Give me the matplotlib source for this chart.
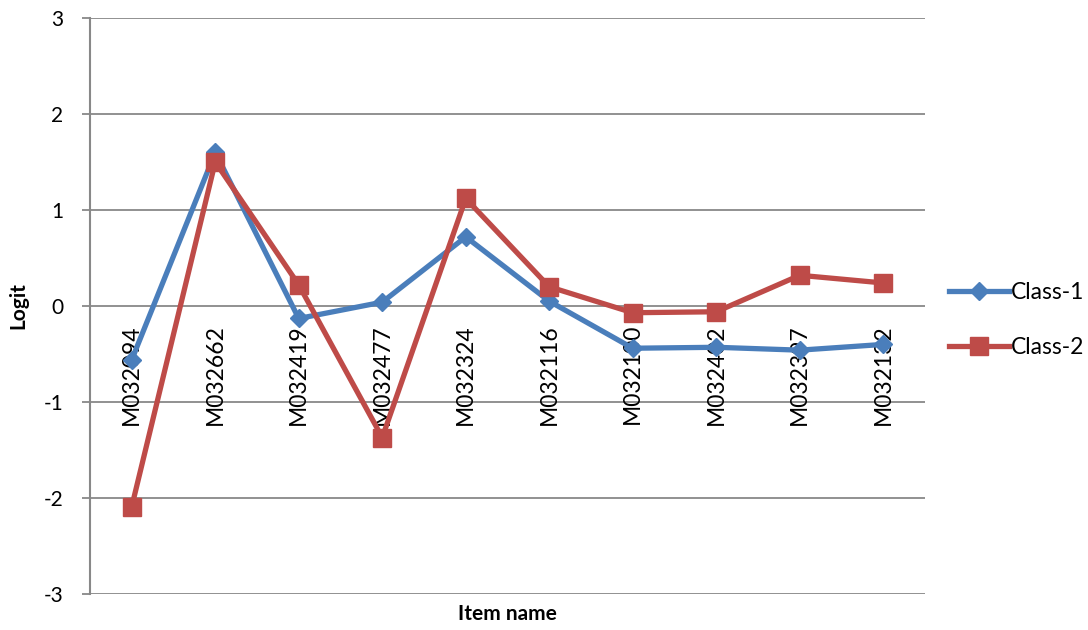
import matplotlib
matplotlib.use("Agg")
import matplotlib.pyplot as plt
from matplotlib.lines import Line2D

plt.rcParams['font.family'] = ['Lato', 'DejaVu Sans']

items = ["M032094", "M032662", "M032419", "M032477", "M032324",
         "M032116", "M032100", "M032402", "M032397", "M032132"]
class1 = [-0.56, 1.60, -0.13, 0.04, 0.72, 0.05, -0.44, -0.43, -0.46, -0.40]
class2 = [-2.09, 1.50, 0.22, -1.37, 1.12, 0.20, -0.07, -0.06, 0.32, 0.24]
yticks = [-3, -2, -1, 0, 1, 2, 3]

blue = "#4A7EBB"
red = "#BE4B48"
grid = "#888888"

fig = plt.figure(figsize=(10.88, 6.3), dpi=100)
ax = fig.add_axes([90/1088, 1-594/630, (925-90)/1088, (594-18)/630])

ax.spines['bottom'].set_position(('data', 0))
ax.spines['bottom'].set_visible(False)
ax.spines['top'].set_visible(False)
ax.spines['right'].set_visible(False)
ax.spines['left'].set_color(grid)
ax.spines['left'].set_linewidth(1.5)

x = list(range(len(items)))
ax.plot(x, class1, color=blue, lw=3.8, marker="D", ms=9, mec=blue, mfc=blue,
        label="Class-1", zorder=3, solid_joinstyle="round")
ax.plot(x, class2, color=red, lw=3.8, marker="s", ms=13, mec=red, mfc=red,
        label="Class-2", zorder=4, solid_joinstyle="round")

ax.set_xlim(-0.5, len(items) - 0.5)
ax.set_ylim(-3, 3)
ax.set_yticks(yticks)
ax.set_yticklabels([str(v) for v in yticks], fontsize=15)
for v in yticks:
    ax.axhline(v, color=grid, lw=1.3, zorder=1)

ax.set_xticks(x)
ax.set_xticklabels(items, rotation=90, fontsize=16.5, va="top", ha="center")
ax.tick_params(axis='x', length=0, pad=13)
ax.tick_params(axis='y', length=6, width=1.3, color=grid, pad=13)

ax.set_ylabel("Logit", fontsize=15, fontweight="bold")
ax.yaxis.set_label_coords(-62/835, 0.5)
fig.text(507/1088, 1-614/630, "Item name", fontsize=15, fontweight="bold",
         ha="center", va="center")

handles = [
    Line2D([], [], color=blue, lw=3.8, marker="D", ms=9),
    Line2D([], [], color=red, lw=3.8, marker="s", ms=13),
]
fig.legend(handles, ["Class-1", "Class-2"], loc="center left",
           bbox_to_anchor=(949/1088, 1-320/630), frameon=False, fontsize=16.5,
           handlelength=2.6, handletextpad=0.1, labelspacing=1.45,
           borderpad=0, borderaxespad=0)

fig.savefig("out.png", dpi=100)
